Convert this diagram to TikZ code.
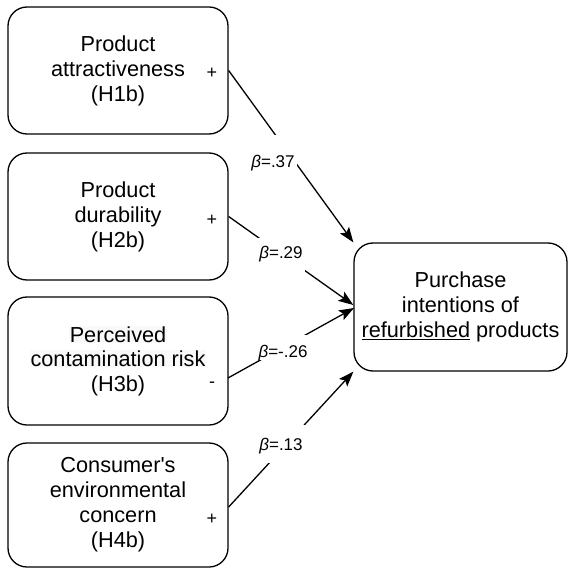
\documentclass[tikz,border=0pt]{standalone}
\usepackage{fontspec}
\setmainfont{Liberation Sans}
\usetikzlibrary{arrows.meta}
\definecolor{hlgray}{gray}{0.975}
\newcommand\myul[1]{\setbox0\hbox{#1}\rlap{\rule[-2.6pt]{\wd0}{1.2pt}}\box0\relax}
\newcommand\hlline[1]{{\setlength{\fboxsep}{0.5pt}\colorbox{hlgray}{#1}}}
\tikzset{
  box/.style={draw, line width=1.3pt, rounded corners=19pt, minimum width=220pt,
    align=center, font=\fontsize{21.7}{25}\selectfont, inner sep=0pt},
  conn/.style={line width=1.3pt, -{Stealth[length=15pt, width=11pt, inset=3pt]}},
  coef/.style={fill=white, anchor=base, inner xsep=2pt, inner ysep=0pt,
    font=\fontsize{17}{20}\selectfont},
  sign/.style={font=\fontsize{18}{20}\selectfont, inner sep=0pt}
}
\begin{document}
\begin{tikzpicture}[x=1pt, y=-1pt]
\useasboundingbox (0,0) rectangle (568,569);
\node[box, minimum height=127pt] (b1) at (118,70.5) {Product\\attractiveness\\(H1b)};
\node[box, minimum height=127pt] (b2) at (118,216.5) {Product\\durability\\(H2b)};
\node[box, minimum height=128pt] (b3) at (118,361) {\hlline{Perceived}\\[-1pt]\hlline{contamination risk}\\(H3b)};
\node[box, minimum height=124pt] (b4) at (118,505) {Consumer\textquotesingle s\\environmental\\concern\\(H4b)};
\node[box, minimum height=128pt, minimum width=213pt] (t) at (460.5,307) {Purchase\\intentions of\\\myul{refurbished} products};
\coordinate (s3) at (228,378);
\coordinate (e3) at (354,308);
\draw[conn] (b1.east) -- (t.north west);
\draw[conn] (b2.east) -- ([yshift=2pt]t.west);
\draw[conn] (s3) -- (e3);
\draw[conn] ([yshift=-2pt]b4.east) -- (t.south west);
\node[coef, text height=33pt, text depth=2pt] (c1) at (273,168) {\textit{β}=.37};
\node[coef, text height=20pt, text depth=17pt] (c2) at (281,258) {\textit{β}=.29};
\node[coef, text height=22pt, text depth=3pt] (c3) at (283,357) {\textit{β}=-.26};
\node[coef, text height=25pt, text depth=13pt] (c4) at (281,450) {\textit{β}=.13};
\node[sign] (p1) at (212,73) {+};
\node[sign] (p2) at (212,220) {+};
\node[sign] (p3) at (212,385) {-};
\node[sign] (p4) at (212,519) {+};
\end{tikzpicture}
\end{document}
